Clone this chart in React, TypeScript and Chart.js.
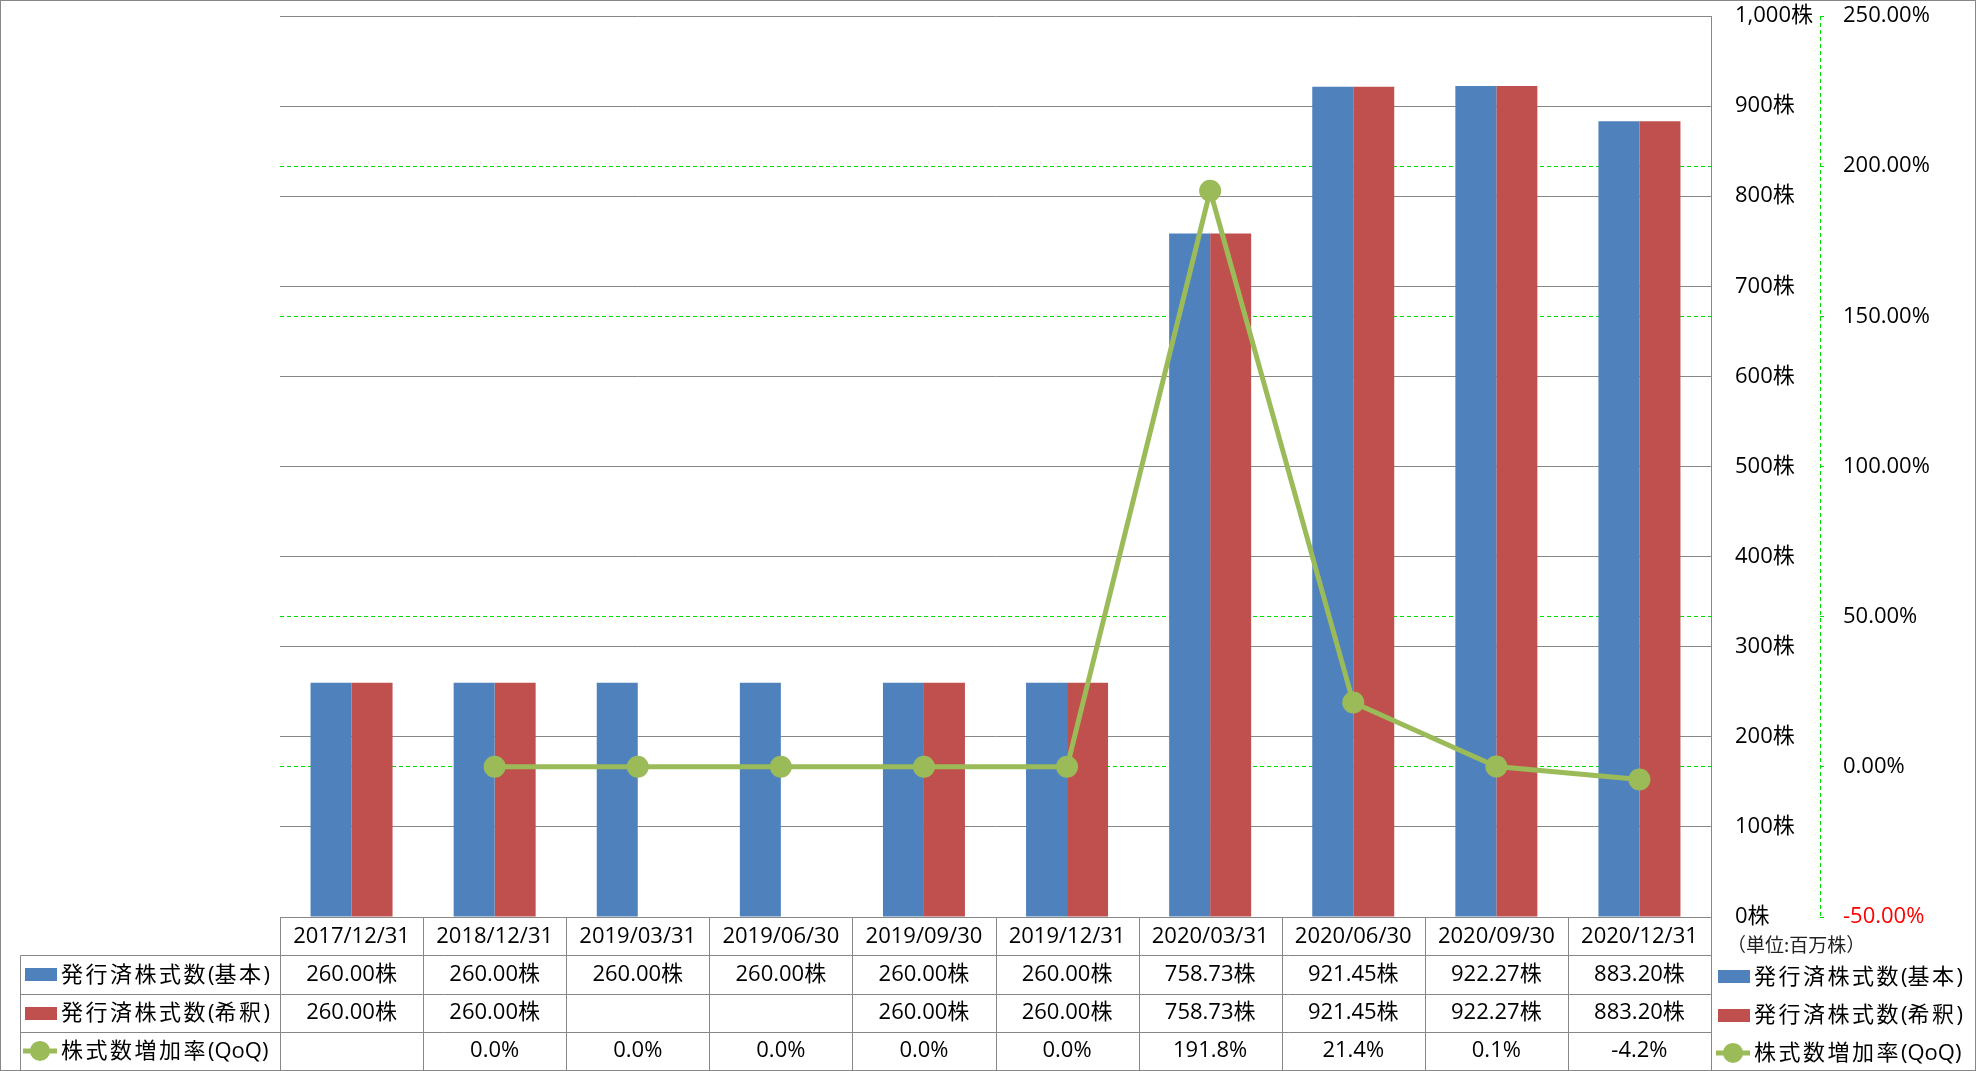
import React, { useEffect, useRef } from 'react';
import { Chart, registerables } from 'chart.js';

Chart.register(...registerables);

// ---------- data ----------
const categories = [
  '2017/12/31', '2018/12/31', '2019/03/31', '2019/06/30', '2019/09/30',
  '2019/12/31', '2020/03/31', '2020/06/30', '2020/09/30', '2020/12/31',
];
const basicShares: (number | null)[] = [260, 260, 260, 260, 260, 260, 758.73, 921.45, 922.27, 883.2];
const dilutedShares: (number | null)[] = [260, 260, null, null, 260, 260, 758.73, 921.45, 922.27, 883.2];
const growthQoQ: (number | null)[] = [null, 0, 0, 0, 0, 0, 191.8, 21.4, 0.1, -4.2];
const seriesLabels = ['発行済株式数(基本)', '発行済株式数(希釈)', '株式数増加率(QoQ)'];
const unitLabel = '（単位:百万株）';
const shareAxisRange = { min: 0, max: 1000, step: 100 };
const rateAxisRange = { min: -50, max: 250, step: 50 };

// ---------- style ----------
const W = 1976;
const H = 1071;
const FONT = "'Open Sans', 'Noto Sans CJK JP', sans-serif";
const BLUE = '#4F81BD';
const RED = '#C0504D';
const GREEN = '#9BBB59';
const DASH_GREEN = '#00E000';
const GRID = '#878787';

const fmtShares = (v: number | null) => (v == null ? '' : v.toFixed(2) + '株');
const fmtRate = (v: number | null) => (v == null ? '' : v.toFixed(1) + '%');

// draw text with extra spacing after wide (CJK) characters only
function drawSpaced(ctx: CanvasRenderingContext2D, text: string, x: number, y: number, extra: number) {
  let cx = x;
  for (const ch of Array.from(text)) {
    ctx.fillText(ch, cx, y);
    cx += ctx.measureText(ch).width + (ch.charCodeAt(0) > 0x2e80 ? extra : 0);
  }
}

export default function App() {
  const ref = useRef<HTMLCanvasElement>(null);

  useEffect(() => {
    const canvas = ref.current!;

    const tablePlugin = {
      id: 'tablePlugin',
      afterDraw(chart: any) {
        const { ctx, chartArea } = chart;
        const xs = chart.scales.x;
        const y1 = chart.scales.y1;
        const n = categories.length;
        const colW = (xs.right - xs.left) / n;
        const top = chartArea.bottom;
        const bottom = chart.height - 1;
        const rowH = (bottom - top) / 4;
        const px = (v: number) => Math.round(v) + 0.5;
        const tableLeft = 20;

        ctx.save();
        // dashed secondary axis line
        ctx.strokeStyle = DASH_GREEN;
        ctx.lineWidth = 1;
        ctx.setLineDash([4, 3]);
        ctx.beginPath();
        ctx.moveTo(px(y1.left), chartArea.top);
        ctx.lineTo(px(y1.left), chartArea.bottom);
        ctx.stroke();
        ctx.setLineDash([]);

        // table grid
        ctx.strokeStyle = GRID;
        ctx.beginPath();
        for (let i = 1; i <= 4; i++) {
          const y = px(top + i * rowH);
          ctx.moveTo(px(tableLeft), y);
          ctx.lineTo(px(xs.right), y);
        }
        ctx.moveTo(px(tableLeft), px(top + rowH));
        ctx.lineTo(px(tableLeft), px(bottom));
        for (let j = 0; j <= n; j++) {
          const x = px(xs.left + j * colW);
          ctx.moveTo(x, px(top));
          ctx.lineTo(x, px(bottom));
        }
        ctx.stroke();
        // outer border
        ctx.strokeRect(0.5, 0.5, chart.width - 1, chart.height - 1);

        // table values
        ctx.fillStyle = '#000';
        ctx.font = `22px ${FONT}`;
        ctx.textAlign = 'center';
        ctx.textBaseline = 'middle';
        const rows = [basicShares.map(fmtShares), dilutedShares.map(fmtShares), growthQoQ.map(fmtRate)];
        rows.forEach((vals, r) => {
          const cy = top + (r + 1.5) * rowH;
          vals.forEach((t, i) => {
            if (t) ctx.fillText(t, xs.getPixelForValue(i), cy);
          });
        });

        // legend keys (left in table, right side)
        const drawKey = (r: number, x: number, cy: number) => {
          const ds = chart.data.datasets[r];
          if (r < 2) {
            ctx.fillStyle = ds.backgroundColor;
            ctx.fillRect(x, Math.round(cy - 6), 32, 13);
          } else {
            ctx.strokeStyle = ds.borderColor;
            ctx.lineWidth = 5;
            ctx.beginPath();
            ctx.moveTo(x - 2, cy);
            ctx.lineTo(x + 32, cy);
            ctx.stroke();
            ctx.fillStyle = ds.borderColor;
            ctx.beginPath();
            ctx.arc(x + 15, cy, 10, 0, Math.PI * 2);
            ctx.fill();
          }
          ctx.fillStyle = '#000';
          ctx.font = `22px ${FONT}`;
          ctx.textAlign = 'left';
          ctx.textBaseline = 'middle';
          drawSpaced(ctx, ds.label, x + 36, cy + 1, 2.5);
        };
        for (let r = 0; r < 3; r++) {
          const cy = top + (r + 1.5) * rowH;
          drawKey(r, 25, cy);
          drawKey(r, 1718, cy + 2);
        }

        // unit label
        ctx.fillStyle = '#222';
        ctx.font = `19px 'Noto Sans CJK JP', sans-serif`;
        ctx.textAlign = 'left';
        ctx.textBaseline = 'middle';
        ctx.fillText(unitLabel, 1727, top + rowH / 2 + 9);
        ctx.restore();
      },
    };

    const noVertPad = (s: any, width: number) => {
      s.width = width;
      s.paddingTop = 0;
      s.paddingBottom = 0;
    };

    const chart = new Chart(canvas, {
      type: 'bar',
      data: {
        labels: categories,
        datasets: [
          {
            type: 'bar',
            label: seriesLabels[0],
            data: basicShares,
            backgroundColor: BLUE,
            borderWidth: 0,
            yAxisID: 'y',
            order: 1,
          },
          {
            type: 'bar',
            label: seriesLabels[1],
            data: dilutedShares,
            backgroundColor: RED,
            borderWidth: 0,
            yAxisID: 'y',
            order: 1,
          },
          {
            type: 'line',
            label: seriesLabels[2],
            data: growthQoQ,
            borderColor: GREEN,
            backgroundColor: GREEN,
            borderWidth: 5,
            pointRadius: 11,
            pointBorderWidth: 0,
            pointBackgroundColor: GREEN,
            tension: 0,
            yAxisID: 'y1',
            order: 0,
          } as any,
        ],
      },
      options: {
        responsive: false,
        animation: false,
        events: [],
        devicePixelRatio: 1,
        layout: { padding: { left: 280, top: 16, right: 0, bottom: 0 } },
        datasets: {
          bar: { categoryPercentage: 0.573, barPercentage: 1 },
        } as any,
        plugins: {
          legend: { display: false },
          tooltip: { enabled: false },
          title: { display: false },
        },
        scales: {
          x: {
            type: 'category',
            offset: true,
            grid: { display: false, drawTicks: false },
            border: { display: true, color: GRID, width: 1 },
            ticks: {
              color: '#000',
              font: { family: FONT, size: 22 },
              padding: 7,
              maxRotation: 0,
              autoSkip: false,
            },
            afterFit: (s: any) => {
              s.height = 154;
              s.paddingLeft = 0;
              s.paddingRight = 0;
            },
          },
          y: {
            type: 'linear',
            position: 'right',
            weight: 0,
            min: shareAxisRange.min,
            max: shareAxisRange.max,
            ticks: {
              stepSize: shareAxisRange.step,
              color: '#000',
              font: { family: FONT, size: 22 },
              padding: 24,
              callback: (v: any) => Number(v).toLocaleString('en-US') + '株',
            },
            grid: { color: GRID, lineWidth: 1, drawTicks: false, z: -1 },
            border: { display: true, color: GRID, width: 1 },
            afterFit: (s: any) => noVertPad(s, 109),
          },
          y1: {
            type: 'linear',
            position: 'right',
            weight: 1,
            min: rateAxisRange.min,
            max: rateAxisRange.max,
            ticks: {
              stepSize: rateAxisRange.step,
              font: { family: FONT, size: 22 },
              padding: 16,
              color: (c: any) => (c.tick && c.tick.value === rateAxisRange.min ? '#FF0000' : '#000'),
              callback: (v: any) => Number(v).toFixed(2) + '%',
            },
            grid: {
              z: -2,
              color: (c: any) =>
                c.tick && (c.tick.value === rateAxisRange.min || c.tick.value === rateAxisRange.max)
                  ? 'rgba(0,0,0,0)'
                  : DASH_GREEN,
              lineWidth: 1,
              drawTicks: true,
              tickLength: 7,
              tickColor: DASH_GREEN,
              tickBorderDash: [4, 3],
            },
            border: { display: false, dash: [4, 3] },
            afterFit: (s: any) => noVertPad(s, 156),
          },
        },
      } as any,
      plugins: [tablePlugin],
    });

    return () => chart.destroy();
  }, []);

  return (
    <div style={{ position: 'absolute', left: 0, top: 0, width: W, height: H, background: '#fff' }}>
      <canvas ref={ref} width={W} height={H} style={{ display: 'block' }} />
    </div>
  );
}
